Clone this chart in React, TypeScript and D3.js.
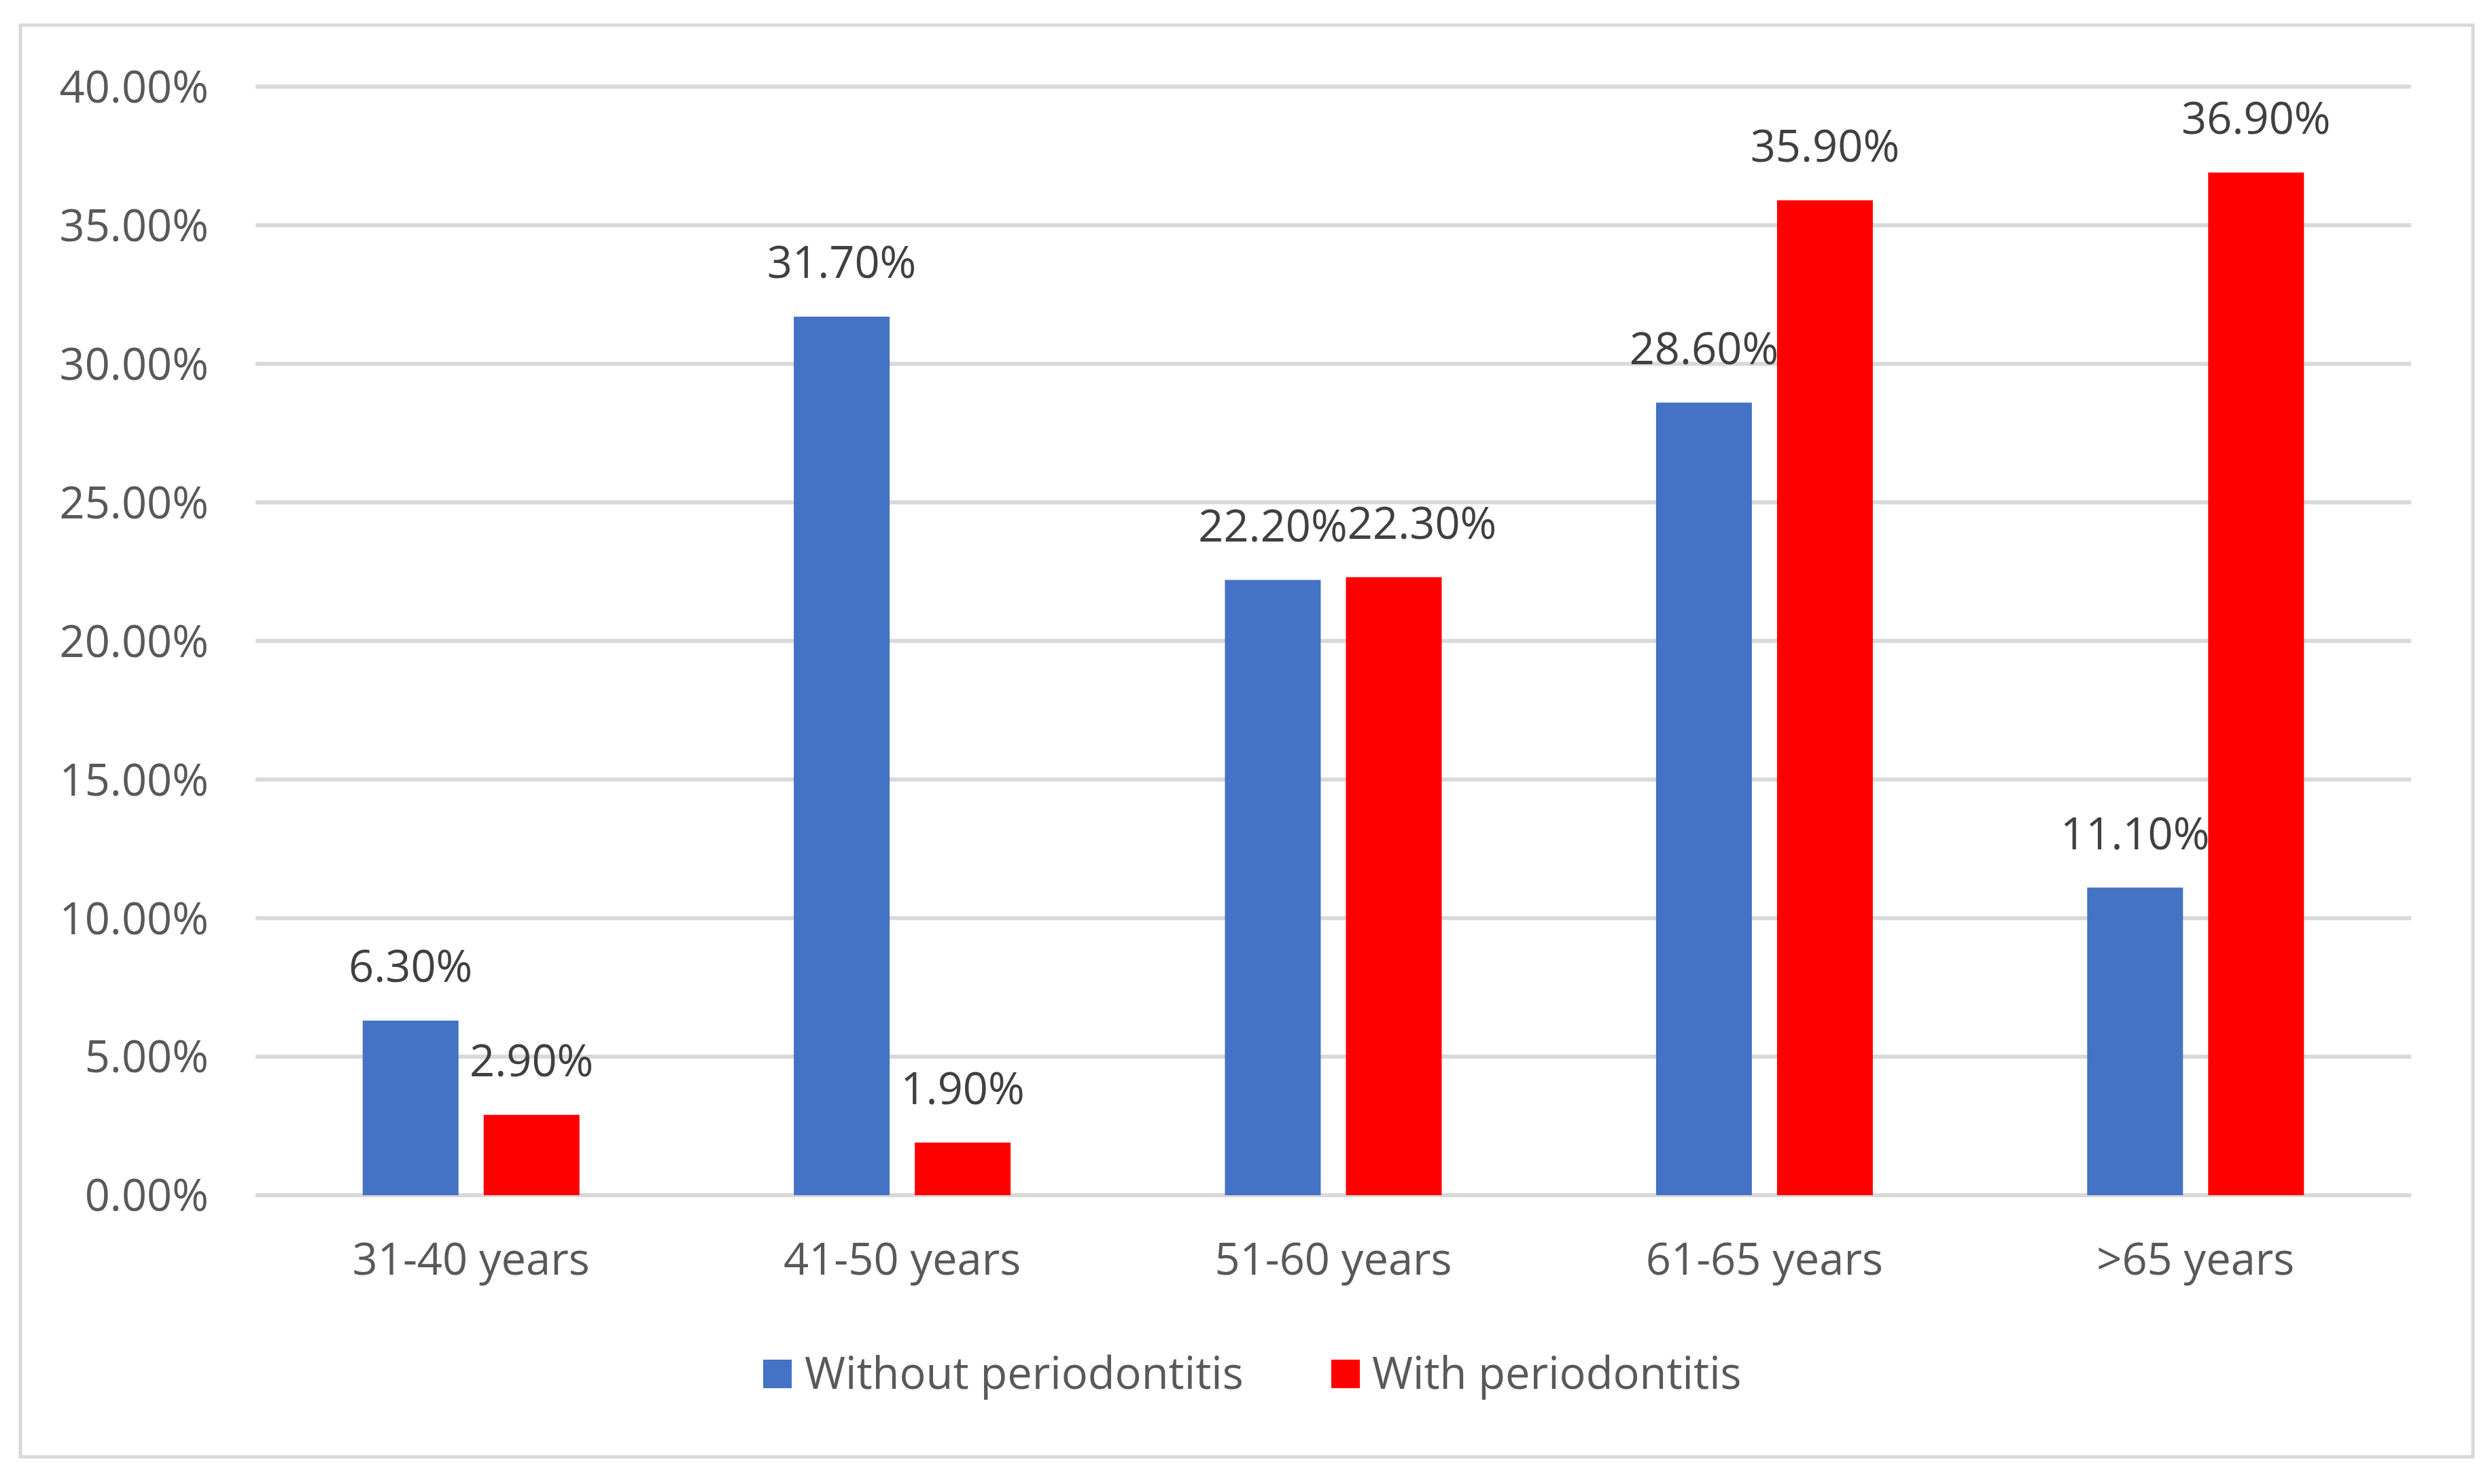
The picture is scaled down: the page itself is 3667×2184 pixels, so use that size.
import React from "react";
import * as d3 from "d3";

const categories = ["31-40 years", "41-50 years", "51-60 years", "61-65 years", ">65 years"];
const seriesNames = ["Without periodontitis", "With periodontitis"];
const withoutValues = [6.3, 31.7, 22.2, 28.6, 11.1];
const withValues = [2.9, 1.9, 22.3, 35.9, 36.9];
const yTicks = [0, 5, 10, 15, 20, 25, 30, 35, 40];
const seriesColors = ["#4472C4", "#FF0000"];

const W = 3667;
const H = 2184;
const FONT = "'Open Sans', 'Noto Sans', sans-serif";
const FS = 65;

// approximate label width (Open Sans advance widths, em)
function labelWidth(s: string) {
  let w = 0;
  for (const ch of s) {
    if (ch === ".") w += 0.27;
    else if (ch === "%") w += 0.82;
    else w += 0.572;
  }
  return w * FS;
}

export default function App() {
  const plotLeft = 376;
  const plotRight = 3548;
  const y = d3.scaleLinear().domain([0, 40]).range([1759, 127.5]);
  const x = d3.scaleBand<string>().domain(categories).range([plotLeft, plotRight]).padding(0);
  const groupW = 319;
  const inner = d3
    .scaleBand<string>()
    .domain(seriesNames)
    .range([(x.bandwidth() - groupW) / 2, (x.bandwidth() + groupW) / 2])
    .paddingInner(0.208)
    .paddingOuter(0);
  const seriesData = [withoutValues, withValues];
  const bw = inner.bandwidth();

  // build labels, then push overlapping labels within a category apart
  const labels: { key: string; cx: number; cy: number; text: string }[][] = categories.map((c, ci) =>
    seriesNames.map((s, si) => {
      const v = seriesData[si][ci];
      const bx = (x(c) as number) + (inner(s) as number);
      return { key: s + c, cx: bx + bw / 2, cy: y(v) - 80, text: v.toFixed(2) + "%" };
    })
  );
  labels.forEach((grp) => {
    const a = grp[0];
    const b = grp[1];
    if (Math.abs(a.cy - b.cy) < FS) {
      const minDist = (labelWidth(a.text) + labelWidth(b.text)) / 2;
      if (b.cx - a.cx < minDist) b.cx = a.cx + minDist;
    }
  });

  return (
    <div style={{ position: "absolute", left: 0, top: 0, width: W, height: H, background: "#fff" }}>
      <svg width={W} height={H} viewBox={`0 0 ${W} ${H}`} style={{ display: "block" }}>
        <rect x={0} y={0} width={W} height={H} fill="#fff" />
        <rect x={30} y={37} width={3609} height={2107} fill="#fff" stroke="#D9D9D9" strokeWidth={5} />
        {yTicks.map((t) => (
          <g key={t}>
            <line x1={plotLeft} x2={plotRight} y1={y(t)} y2={y(t)} stroke="#D9D9D9" strokeWidth={6} />
            <text
              x={307}
              y={y(t)}
              dy="0.36em"
              textAnchor="end"
              fontFamily={FONT}
              fontSize={FS}
              fill="#595959"
            >
              {t.toFixed(2) + "%"}
            </text>
          </g>
        ))}
        {seriesNames.map((s, si) =>
          categories.map((c, ci) => {
            const v = seriesData[si][ci];
            const bx = (x(c) as number) + (inner(s) as number);
            return <rect key={s + c} x={bx} y={y(v)} width={bw} height={y(0) - y(v)} fill={seriesColors[si]} />;
          })
        )}
        {labels.flat().map((l) => (
          <text
            key={"l" + l.key}
            x={l.cx}
            y={l.cy}
            dy="0.36em"
            textAnchor="middle"
            fontFamily={FONT}
            fontSize={FS}
            fill="#404040"
          >
            {l.text}
          </text>
        ))}
        {categories.map((c) => (
          <text
            key={c}
            x={(x(c) as number) + x.bandwidth() / 2}
            y={1876}
            textAnchor="middle"
            fontFamily={FONT}
            fontSize={FS}
            fill="#595959"
          >
            {c}
          </text>
        ))}
        {[
          { sx: 1123, tx: 1184 },
          { sx: 1959, tx: 2019 },
        ].map((p, i) => (
          <g key={seriesNames[i]}>
            <rect x={p.sx} y={2001} width={42} height={42} fill={seriesColors[i]} />
            <text x={p.tx} y={2044} fontFamily={FONT} fontSize={FS} fill="#595959">
              {seriesNames[i]}
            </text>
          </g>
        ))}
      </svg>
    </div>
  );
}
